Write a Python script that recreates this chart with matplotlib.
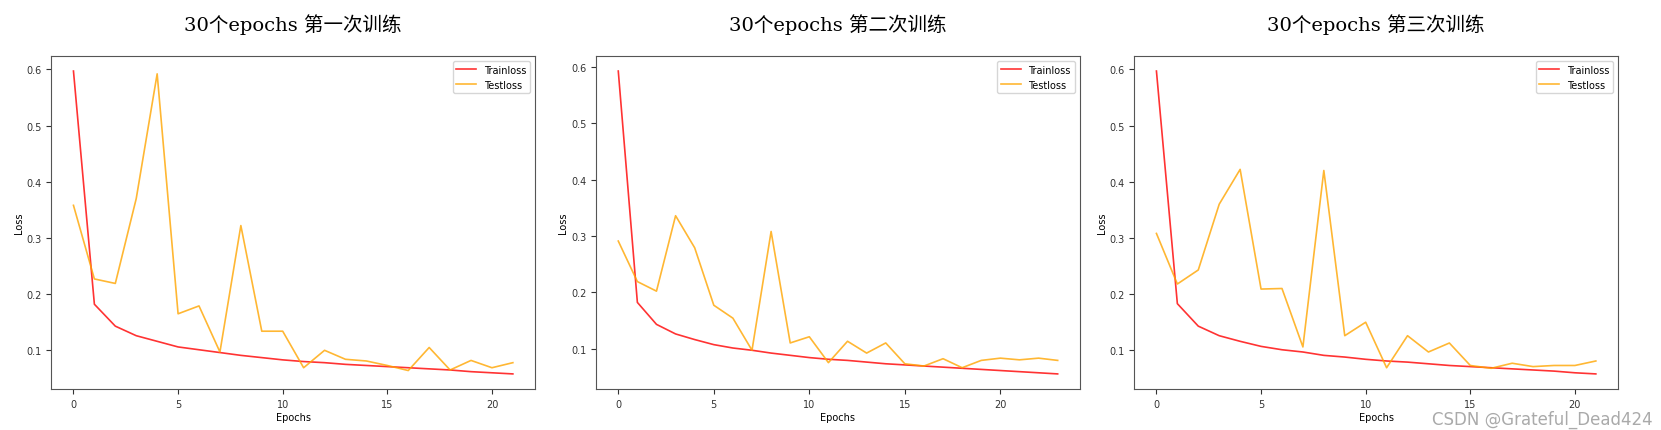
import matplotlib
matplotlib.use('Agg')
import matplotlib.pyplot as plt

titles = ['30个epochs 第一次训练', '30个epochs 第二次训练', '30个epochs 第三次训练']

train1 = [0.597, 0.182, 0.143, 0.126, 0.116, 0.106, 0.101, 0.096, 0.091, 0.087, 0.083,
          0.080, 0.078, 0.075, 0.073, 0.071, 0.069, 0.067, 0.065, 0.062, 0.060, 0.058]
test1 = [0.358, 0.227, 0.219, 0.370, 0.592, 0.165, 0.179, 0.097, 0.322, 0.134, 0.134,
         0.069, 0.100, 0.084, 0.081, 0.073, 0.064, 0.105, 0.065, 0.082, 0.069, 0.078]

train2 = [0.593, 0.182, 0.143, 0.126, 0.116, 0.107, 0.101, 0.097, 0.092, 0.088, 0.084, 0.081,
          0.079, 0.076, 0.073, 0.071, 0.069, 0.067, 0.065, 0.063, 0.061, 0.059, 0.057, 0.055]
test2 = [0.291, 0.219, 0.202, 0.336, 0.279, 0.177, 0.154, 0.097, 0.308, 0.110, 0.121, 0.075,
         0.113, 0.092, 0.110, 0.073, 0.069, 0.082, 0.066, 0.079, 0.083, 0.080, 0.083, 0.079]

train3 = [0.597, 0.183, 0.143, 0.126, 0.116, 0.107, 0.101, 0.097, 0.091, 0.088, 0.084,
          0.081, 0.079, 0.076, 0.073, 0.071, 0.069, 0.067, 0.065, 0.063, 0.060, 0.058]
test3 = [0.308, 0.218, 0.243, 0.360, 0.422, 0.209, 0.210, 0.106, 0.420, 0.126, 0.150,
         0.069, 0.126, 0.097, 0.113, 0.073, 0.068, 0.077, 0.071, 0.073, 0.073, 0.081]

runs = [(train1, test1), (train2, test2), (train3, test3)]

fig = plt.figure(figsize=(16.61, 4.31), dpi=100)
lefts = [0.031, 0.359, 0.683]

for left, title, (tr, te) in zip(lefts, titles, runs):
    ax = fig.add_axes([left, 0.095, 0.291, 0.773])
    ax.plot(range(len(tr)), tr, color='red', alpha=0.8, lw=1.2, label='Trainloss')
    ax.plot(range(len(te)), te, color='orange', alpha=0.8, lw=1.2, label='Testloss')
    ax.set_xticks([0, 5, 10, 15, 20])
    ax.set_yticks([0.1, 0.2, 0.3, 0.4, 0.5, 0.6])
    ax.tick_params(labelsize=7, colors='#333333')
    ax.set_xlabel('Epochs', fontsize=7, labelpad=2)
    ax.set_ylabel('Loss', fontsize=7, labelpad=2)
    for s in ax.spines.values():
        s.set_color('#555555')
    ax.legend(fontsize=7, loc='upper right')
    ax.text(0.5, 1.065, title, transform=ax.transAxes, ha='center', va='bottom',
            fontsize=14, family=['DejaVu Serif', 'Noto Sans CJK SC'])

fig.text(0.995, 0.005, 'CSDN @Grateful_Dead424', ha='right', va='bottom',
         fontsize=12, color='#aaaaaa')

plt.savefig('out.png')
